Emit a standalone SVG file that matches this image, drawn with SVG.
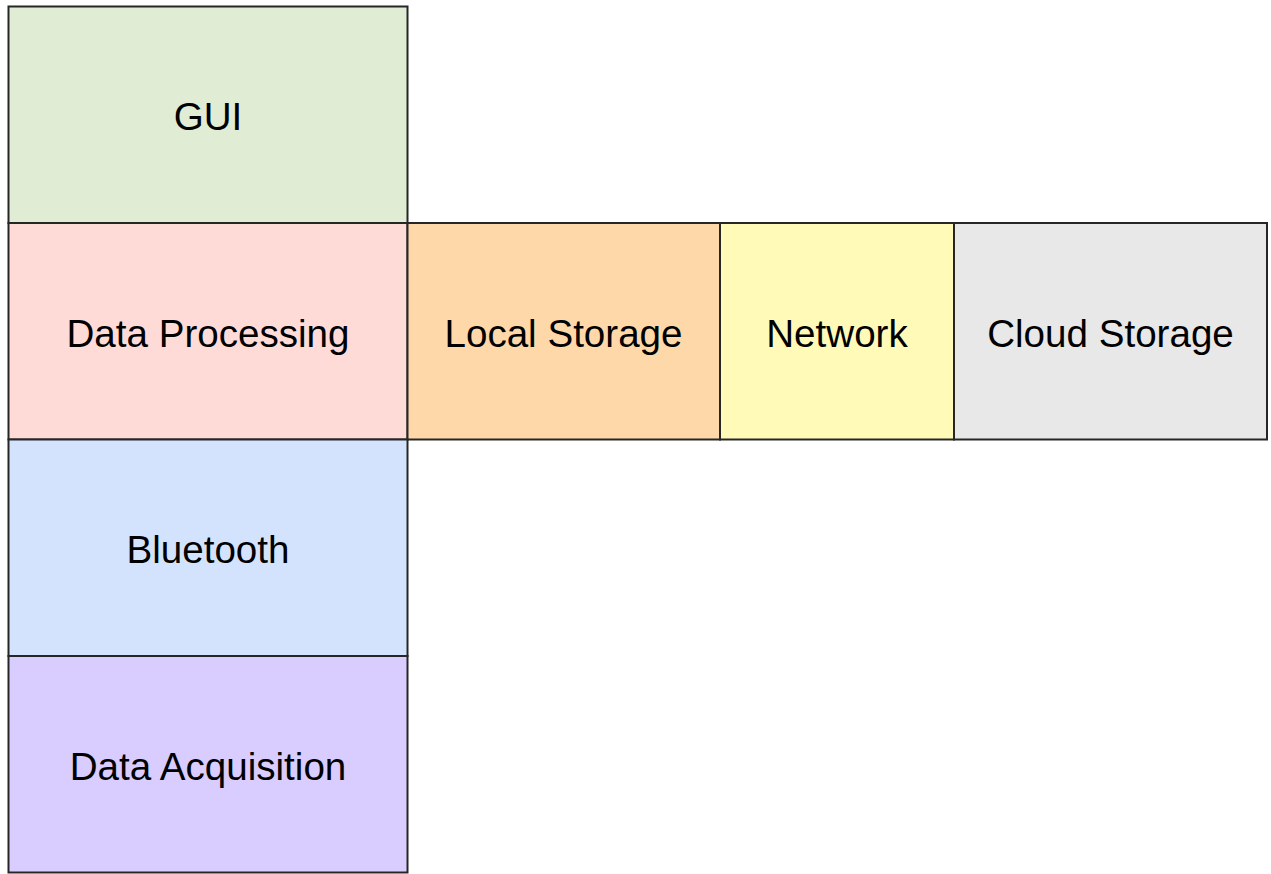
<svg xmlns="http://www.w3.org/2000/svg" width="1271" height="874" viewBox="0 0 1271 874">
<style>
.b{stroke:#262626;stroke-width:2}
.t{font-family:"Liberation Sans",Arial,sans-serif;font-size:38.6px;fill:#000;text-anchor:middle}
</style>
<rect width="1271" height="874" fill="#ffffff"/>
<g id="gui"><rect class="b" x="8.5" y="6.5" width="399" height="216.5" fill="#e0ecd4"/><text class="t" x="208" y="130">GUI</text></g>
<g id="data-processing"><rect class="b" x="8.5" y="223" width="399" height="216.5" fill="#ffdbd8"/><text class="t" x="208" y="346.5">Data Processing</text></g>
<g id="local-storage"><rect class="b" x="407.5" y="223" width="312.5" height="216.5" fill="#fed8a8"/><text class="t" x="563.5" y="346.5">Local Storage</text></g>
<g id="network"><rect class="b" x="720" y="223" width="234" height="216.5" fill="#fffab8"/><text class="t" x="837" y="346.5">Network</text></g>
<g id="cloud-storage"><rect class="b" x="954" y="223" width="313" height="216.5" fill="#e8e8e8"/><text class="t" x="1110.5" y="346.5">Cloud Storage</text></g>
<g id="bluetooth"><rect class="b" x="8.5" y="439.5" width="399" height="216.5" fill="#d4e3fd"/><text class="t" x="208" y="563">Bluetooth</text></g>
<g id="data-acquisition"><rect class="b" x="8.5" y="656" width="399" height="216.5" fill="#d9ccfe"/><text class="t" x="208" y="779.5">Data Acquisition</text></g>
<g id="connectors"></g>
</svg>
